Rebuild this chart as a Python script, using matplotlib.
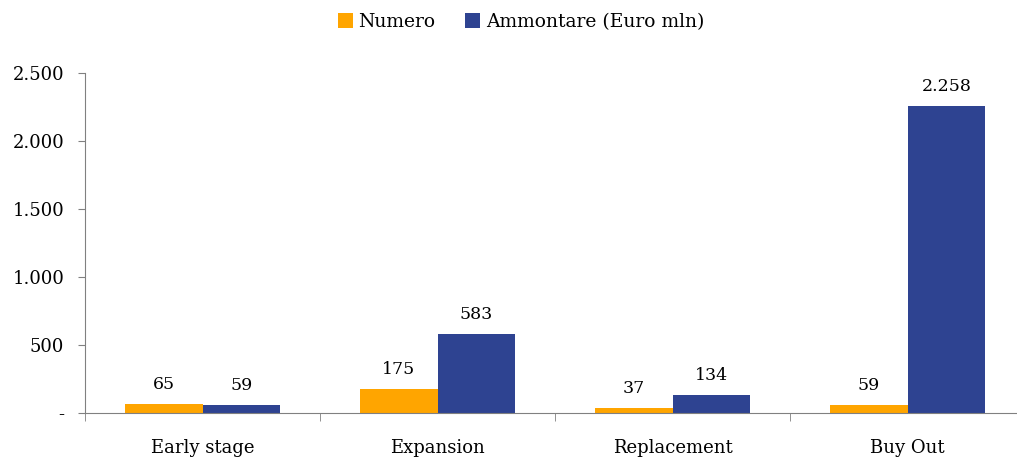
import matplotlib.pyplot as plt
import numpy as np
from matplotlib.ticker import FuncFormatter

categories = ['Early stage', 'Expansion', 'Replacement', 'Buy Out']
numero = [65, 175, 37, 59]
ammontare = [59, 583, 134, 2258]
y_ticks = [0, 500, 1000, 1500, 2000, 2500]

plt.rcParams['font.family'] = ['DejaVu Serif']
plt.rcParams['font.size'] = 13

orange = '#FFA500'
blue = '#2E4391'
axis_col = '#808080'

fig = plt.figure(figsize=(10.17, 4.57), dpi=100)
ax = fig.add_axes([85 / 1017, 44 / 457, 940 / 1017, 340 / 457])

x = np.arange(len(categories))
w = 0.33
b1 = ax.bar(x - w / 2, numero, w, color=orange, label='Numero')
b2 = ax.bar(x + w / 2, ammontare, w, color=blue, label='Ammontare (Euro mln)')


def fmt(v, pos=None):
    if v == 0:
        return '-'
    return f'{int(v):,}'.replace(',', '.')


for bars, vals in ((b1, numero), (b2, ammontare)):
    for rect, v in zip(bars, vals):
        ax.annotate(fmt(v), (rect.get_x() + rect.get_width() / 2, v),
                    xytext=(0, 8), textcoords='offset points',
                    ha='center', va='bottom', fontsize=12.5)

ax.set_xlim(-0.5, 3.5)
ax.set_ylim(0, 2500)
ax.set_yticks(y_ticks)
ax.yaxis.set_major_formatter(FuncFormatter(fmt))
ax.set_xticks(x)
ax.set_xticklabels(categories)
ax.set_xticks(np.arange(-0.5, 3.6, 1), minor=True)
ax.tick_params(axis='x', which='major', length=0, pad=19)
ax.tick_params(axis='x', which='minor', length=6, color=axis_col, direction='out')
ax.tick_params(axis='y', length=5, color=axis_col, pad=10)

for s in ('top', 'right'):
    ax.spines[s].set_visible(False)
for s in ('left', 'bottom'):
    ax.spines[s].set_color(axis_col)

ax.legend(loc='center', bbox_to_anchor=(521 / 1017, 1 - 22 / 457),
          bbox_transform=fig.transFigure, ncol=2, frameon=False,
          handlelength=0.8, handleheight=0.8, handletextpad=0.3,
          columnspacing=1.6, fontsize=13.5)

fig.savefig('out.png', dpi=100)
